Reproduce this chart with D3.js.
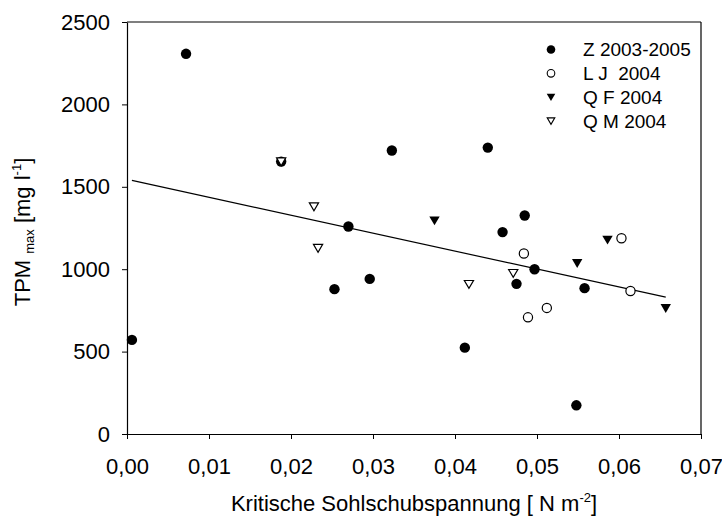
<!DOCTYPE html>
<html lang="de">
<head>
<meta charset="UTF-8">
<title>TPM max vs. kritische Sohlschubspannung</title>
<script src="https://d3js.org/d3.v7.min.js"></script>
<style>
  body { margin: 0; background: #fff; }
  svg text { font-family: "Liberation Sans", Arial, sans-serif; fill: #000; }
</style>
</head>
<body>
<div id="chart"></div>
<script>
// series values: [tau_crit, TPM_max]
const zData = [
  [0.0006, 571], [0.0072, 2307], [0.0188, 1653], [0.0253, 879], [0.0270, 1259],
  [0.0296, 941], [0.0323, 1720], [0.0412, 524], [0.0440, 1738], [0.0458, 1225],
  [0.0475, 911], [0.0485, 1326], [0.0497, 1000], [0.0548, 174], [0.0558, 885]
];
const ljData = [
  [0.0484, 1095], [0.0489, 708], [0.0512, 765], [0.0603, 1188], [0.0614, 868]
];
const qfData = [
  [0.0375, 1295], [0.0549, 1036], [0.0586, 1178], [0.0657, 763]
];
const qmData = [
  [0.0188, 1653], [0.0228, 1380], [0.0233, 1128], [0.0417, 909], [0.0471, 976]
];
const seriesNames = ["Z 2003-2005", "L J  2004", "Q F 2004", "Q M 2004"];
const xTicks = [0, 0.01, 0.02, 0.03, 0.04, 0.05, 0.06, 0.07];
const yTicks = [0, 500, 1000, 1500, 2000, 2500];
// linear regression over all points
const fitIntercept = 1545;
const fitSlope = -10880;

const width = 722, height = 518;
const margin = {top: 22, right: 21, bottom: 84, left: 127};

const svg = d3.select("#chart").append("svg")
  .attr("width", width)
  .attr("height", height);

const x = d3.scaleLinear().domain([0, 0.07]).range([margin.left, width - margin.right]);
const y = d3.scaleLinear().domain([0, 2500]).range([height - margin.bottom, margin.top]);

const fmt = d => d3.format(".2f")(d).replace(".", ",");

// axes
svg.append("g")
  .attr("transform", `translate(0,${height - margin.bottom})`)
  .call(d3.axisBottom(x).tickValues(xTicks).tickFormat(fmt).tickSize(5).tickSizeOuter(0).tickPadding(19))
  .call(g => g.select(".domain").attr("stroke-width", 1.2))
  .selectAll("text").style("font-size", "22px");

svg.append("g")
  .attr("transform", `translate(${margin.left},0)`)
  .call(d3.axisLeft(y).tickValues(yTicks).tickFormat(d3.format("d")).tickSize(5).tickSizeOuter(0).tickPadding(12))
  .call(g => g.select(".domain").attr("stroke-width", 1.2))
  .selectAll("text").style("font-size", "22px");

// top and right frame
svg.append("line")
  .attr("x1", x(0)).attr("x2", x(0.07))
  .attr("y1", y(2500)).attr("y2", y(2500))
  .attr("stroke", "#000").attr("stroke-width", 1.2);
svg.append("line")
  .attr("x1", x(0.07)).attr("x2", x(0.07))
  .attr("y1", y(2500)).attr("y2", y(0))
  .attr("stroke", "#000").attr("stroke-width", 1.2);

// regression line over the data range
const allX = zData.concat(ljData, qfData, qmData).map(d => d[0]);
const xr = d3.extent(allX);
svg.append("line")
  .attr("x1", x(xr[0])).attr("y1", y(fitIntercept + fitSlope * xr[0]))
  .attr("x2", x(xr[1])).attr("y2", y(fitIntercept + fitSlope * xr[1]))
  .attr("stroke", "#000").attr("stroke-width", 1.2);

// marker shapes
const triDown = (s) => `M${-s},${-s * 0.8}L${s},${-s * 0.8}L0,${s * 0.9}Z`;

function drawCircles(data, r, filled) {
  svg.append("g").selectAll("circle")
    .data(data)
    .join("circle")
    .attr("cx", d => x(d[0]))
    .attr("cy", d => y(d[1]))
    .attr("r", r)
    .attr("fill", filled ? "#000" : "#fff")
    .attr("stroke", "#000")
    .attr("stroke-width", filled ? 0 : 1.2);
}
function drawTris(data, s, filled) {
  svg.append("g").selectAll("path")
    .data(data)
    .join("path")
    .attr("transform", d => `translate(${x(d[0])},${y(d[1])})`)
    .attr("d", triDown(s))
    .attr("fill", filled ? "#000" : "#fff")
    .attr("stroke", "#000")
    .attr("stroke-width", filled ? 0 : 1.2);
}

drawCircles(zData, 5.2, true);
drawCircles(ljData, 4.6, false);
drawTris(qfData, 5.2, true);
drawTris(qmData, 4.6, false);

// legend
const legend = svg.append("g").attr("transform", "translate(551,49.5)");
seriesNames.forEach((name, i) => {
  const g = legend.append("g").attr("transform", `translate(0,${i * 23.8})`);
  if (i === 0) g.append("circle").attr("r", 4.3).attr("fill", "#000");
  if (i === 1) g.append("circle").attr("r", 3.8).attr("fill", "#fff").attr("stroke", "#000").attr("stroke-width", 1.1);
  if (i === 2) g.append("path").attr("d", triDown(4.3)).attr("fill", "#000");
  if (i === 3) g.append("path").attr("d", triDown(3.8)).attr("fill", "#fff").attr("stroke", "#000").attr("stroke-width", 1.1);
  g.append("text")
    .attr("x", 32).attr("dy", "0.36em")
    .attr("xml:space", "preserve")
    .style("white-space", "pre")
    .style("font-size", "19px")
    .text(name);
});

// axis titles
const xt = svg.append("text")
  .attr("x", (x(0) + x(0.07)) / 2)
  .attr("y", 511)
  .attr("text-anchor", "middle")
  .style("font-size", "22px");
xt.append("tspan").text("Kritische Sohlschubspannung [ N m");
xt.append("tspan").attr("dy", -9).style("font-size", "13px").text("-2");
xt.append("tspan").attr("dy", 9).text("]");

const yt = svg.append("text")
  .attr("transform", "translate(30,232) rotate(-90)")
  .attr("text-anchor", "middle")
  .style("font-size", "22px");
yt.append("tspan").text("TPM ");
yt.append("tspan").attr("dy", 4).style("font-size", "13px").text("max");
yt.append("tspan").attr("dy", -4).text(" [mg l");
yt.append("tspan").attr("dy", -9).style("font-size", "13px").text("-1");
yt.append("tspan").attr("dy", 9).text("]");
</script>
</body>
</html>
